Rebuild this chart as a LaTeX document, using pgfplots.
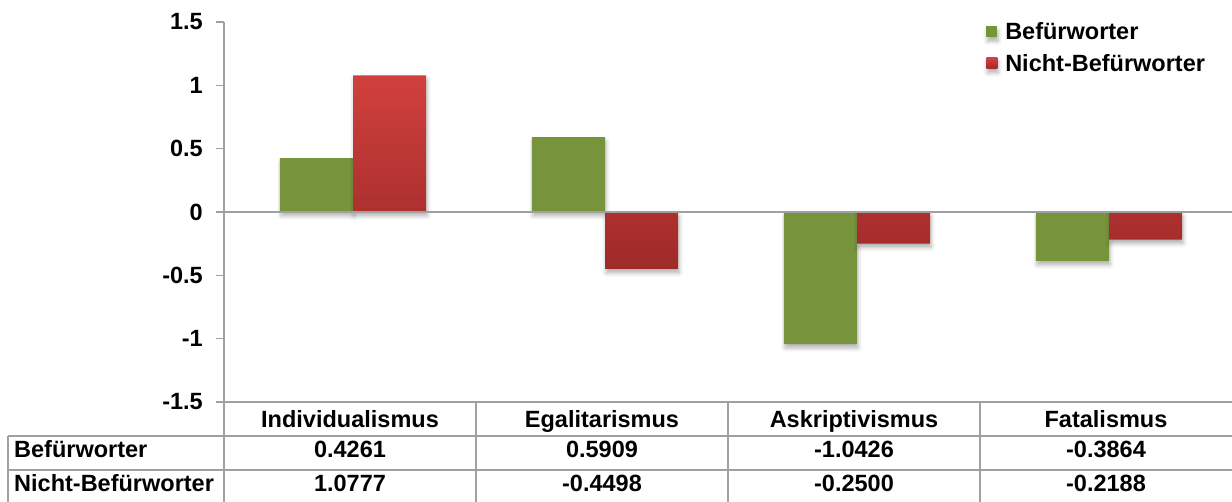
\documentclass[border=0pt]{standalone}
\usepackage{fontspec}
\setmainfont{Liberation Sans}
\usepackage{pgfplots}
\pgfplotsset{compat=1.18}
\usetikzlibrary{shadows.blur}
\definecolor{gr}{RGB}{119,147,60}
\definecolor{rtop}{RGB}{208,64,61}
\definecolor{rbot}{RGB}{158,42,41}
\definecolor{ln}{RGB}{160,160,160}
\newcommand{\cf}{\fontsize{23.5}{28}\selectfont\bfseries}
\begin{document}
\begin{tikzpicture}
\useasboundingbox (0,0) rectangle (1232pt,502pt);
\begin{axis}[
  at={(224pt,100pt)}, anchor=south west,
  scale only axis, width=1008pt, height=380pt,
  xmin=-0.5, xmax=3.5, ymin=-1.5, ymax=1.5,
  axis x line*=bottom, axis y line*=left,
  axis line style={ln, line width=2pt, -},
  ybar=0pt, bar width=0.29,
  xtick={0,1,2,3},
  xticklabels={Individualismus,Egalitarismus,Askriptivismus,Fatalismus},
  xtick style={draw=none},
  xticklabel style={font=\cf, anchor=base, yshift=-18pt},
  ytick={-1.5,-1,-0.5,0,0.5,1,1.5},
  ytick style={ln, line width=1.5pt},
  tick align=outside, major tick length=8pt,
  yticklabel style={font=\cf, anchor=east, inner sep=0pt, xshift=-13pt},
  /pgf/number format/assume math mode=true,
  clip=false,
  legend style={at={(0.756,1.004)}, anchor=north west, draw=none, fill=none,
    font=\cf, inner sep=0pt, row sep=9pt,
    /tikz/every odd column/.append style={column sep=6pt}},
  legend cell align=left,
]
\addplot[fill=gr, draw=none, bar shift=-0.133,
  blur shadow={shadow xshift=1pt, shadow yshift=-4pt, shadow blur radius=4pt, shadow opacity=30},
  legend image code/.code={\fill[gr] (0pt,-5.5pt) rectangle (11pt,5.5pt);}]
  coordinates {(0,0.4261) (1,0.5909) (2,-1.0426) (3,-0.3864)};
\addplot[draw=none, top color=rtop, bottom color=rbot, bar shift=0.157,
  blur shadow={shadow xshift=1pt, shadow yshift=-4pt, shadow blur radius=4pt, shadow opacity=30},
  legend image code/.code={\shade[top color=rtop, bottom color=rbot] (0pt,-5.5pt) rectangle (11pt,5.5pt);}]
  coordinates {(0,1.0777) (1,-0.4498) (2,-0.2500) (3,-0.2188)};
\legend{Befürworter, Nicht-Befürworter}
\draw[ln, line width=2pt] (axis cs:-0.5,0) -- (axis cs:3.5,0);
\end{axis}
% data table below the chart
\begin{scope}[ln, line width=2pt]
\draw (8pt,65.5pt) -- (1232pt,65.5pt);
\draw (8pt,32pt) -- (1232pt,32pt);
\draw (8pt,0pt) -- (8pt,65.5pt);
\draw (224pt,0pt) -- (224pt,100pt);
\foreach \xx in {476,728,980} {\draw (\xx pt,0pt) -- (\xx pt,100pt);}
\end{scope}
\begin{scope}[every node/.style={font=\cf, inner sep=0pt}]
\node[anchor=base west] at (14pt,44pt) {Befürworter};
\node[anchor=base west] at (14pt,10pt) {Nicht-Befürworter};
\node[anchor=base] at (350pt,44pt) {0.4261};
\node[anchor=base] at (602pt,44pt) {0.5909};
\node[anchor=base] at (854pt,44pt) {-1.0426};
\node[anchor=base] at (1106pt,44pt) {-0.3864};
\node[anchor=base] at (350pt,10pt) {1.0777};
\node[anchor=base] at (602pt,10pt) {-0.4498};
\node[anchor=base] at (854pt,10pt) {-0.2500};
\node[anchor=base] at (1106pt,10pt) {-0.2188};
\end{scope}
\end{tikzpicture}
\end{document}
